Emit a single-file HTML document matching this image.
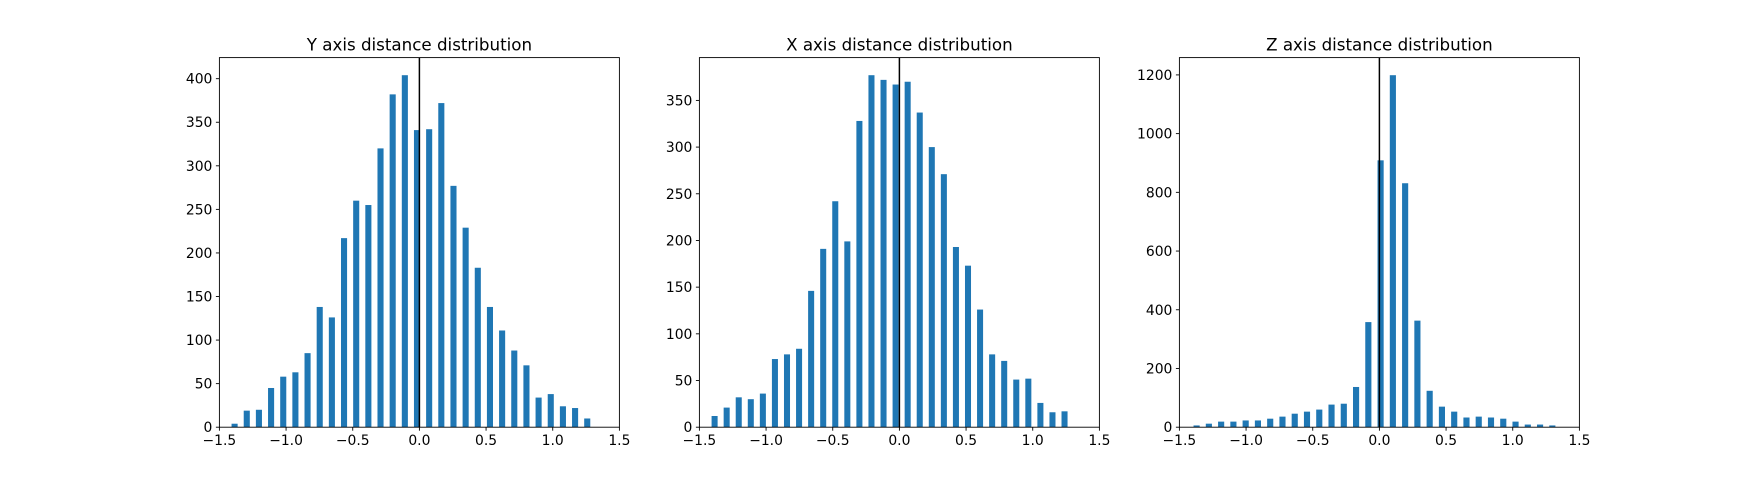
<!DOCTYPE html>
<html><head><meta charset="utf-8"><style>
body{margin:0;background:#fff;}
svg{display:block;font-family:"DejaVu Sans","Liberation Sans",sans-serif;}
</style></head><body>
<svg id="fig" width="1755" height="480" viewBox="0 0 1755 480" xmlns="http://www.w3.org/2000/svg"></svg>
<script>
const titles = ["Y axis distance distribution","X axis distance distribution","Z axis distance distribution"];
const startY = -1.386, stepY = 0.0912;
const startX = -1.386, stepX = 0.0905;
const startZ = -1.371, stepZ = 0.092;
const countsY = [4,19,20,45,58,63,85,138,126,217,260,255,320,382,404,341,342,372,277,229,183,138,111,88,71,34,38,24,22,10];
const countsX = [12,21,32,30,36,73,78,84,146,191,242,199,328,377,372,367,370,337,300,271,193,173,126,78,71,51,52,26,16,17];
const countsZ = [6,12,19,19,23,23,29,36,46,53,60,77,80,137,358,909,1199,831,363,124,70,53,33,36,33,29,19,9,9,6];
const yTicksY = [0,50,100,150,200,250,300,350,400];
const yTicksX = [0,50,100,150,200,250,300,350];
const yTicksZ = [0,200,400,600,800,1000,1200];
const xTicks = [-1.5,-1.0,-0.5,0.0,0.5,1.0,1.5];
const xTickLabels = ["\u22121.5","\u22121.0","\u22120.5","0.0","0.5","1.0","1.5"];

const NS="http://www.w3.org/2000/svg";
const svg=document.getElementById('fig');
function mk(tag,attrs,parent){const e=document.createElementNS(NS,tag);for(const k in attrs)e.setAttribute(k,attrs[k]);(parent||svg).appendChild(e);return e;}

const panels=[
 {key:'y',counts:countsY,start:startY,step:stepY,ticks:yTicksY,left:219.4},
 {key:'x',counts:countsX,start:startX,step:stepX,ticks:yTicksX,left:699.4},
 {key:'z',counts:countsZ,start:startZ,step:stepZ,ticks:yTicksZ,left:1179.4}
];
const axW=400, axTop=57.6, axBottom=427.2, axH=axBottom-axTop;
panels.forEach((p,pi)=>{
  const g=mk('g',{});
  
  
  const ymax=1.05*Math.max(...p.counts);
  const sx=v=>p.left+(v+1.5)/3*axW;
  const sy=v=>axBottom-v/ymax*axH;
  const bw=p.step*0.5/3*axW;
  p.counts.forEach((c,i)=>{
    const cx=sx(p.start+i*p.step);
    const r=mk('rect',{x:cx-bw/2,y:sy(c),width:bw,height:axBottom-sy(c),fill:'#1f77b4'},g);
    
    
  });
  const zl=mk('line',{x1:sx(0),x2:sx(0),y1:axTop,y2:axBottom,stroke:'#000','stroke-width':1.5},g);
  
  
  const fr=mk('rect',{x:p.left,y:axTop,width:axW,height:axH,fill:'none',stroke:'#000','stroke-width':0.9},g);
  
  
  xTicks.forEach((t,i)=>{
    const x=sx(t);
    mk('line',{x1:x,x2:x,y1:axBottom,y2:axBottom+3.5,stroke:'#000','stroke-width':0.9},g);
    const tx=mk('text',{x:x,y:axBottom+18,'text-anchor':'middle','font-size':13.9,fill:'#000'},g);
    tx.textContent=xTickLabels[i];
    
    
  });
  p.ticks.forEach(t=>{
    const y=sy(t);
    mk('line',{x1:p.left-3.5,x2:p.left,y1:y,y2:y,stroke:'#000','stroke-width':0.9},g);
    const ty=mk('text',{x:p.left-7,y:y+5,'text-anchor':'end','font-size':13.9,fill:'#000'},g);
    ty.textContent=String(t);
    
    
  });
  const tt=mk('text',{x:p.left+axW/2,y:axTop-7,'text-anchor':'middle','font-size':16.7,fill:'#000'},g);
  tt.textContent=titles[pi];
  
  
});
</script>
</body></html>
